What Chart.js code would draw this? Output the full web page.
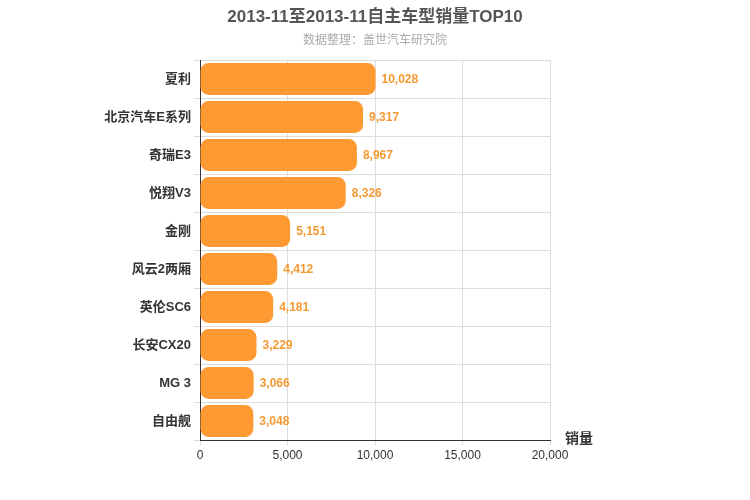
<!DOCTYPE html>
<html><head><meta charset="utf-8">
<script src="https://cdn.jsdelivr.net/npm/chart.js@4/dist/chart.umd.min.js"></script>
<style>body{margin:0;background:#fff}#w{width:750px;height:500px}</style>
</head><body><div id="w"><canvas id="c"></canvas></div>
<script>
const categories=["夏利","北京汽车E系列","奇瑞E3","悦翔V3","金刚","风云2两厢","英伦SC6","长安CX20","MG 3","自由舰"];
const sales=[10028,9317,8967,8326,5151,4412,4181,3229,3066,3048];
const xTicks=[0,5000,10000,15000,20000];
const F='"Helvetica Neue",Arial,"Noto Sans CJK SC",sans-serif';
const labels={id:'labels',afterDatasetsDraw(ch){const c=ch.ctx;const m=ch.getDatasetMeta(0);c.save();c.font='bold 12px '+F;c.fillStyle='#f59a33';c.textBaseline='middle';m.data.forEach((b,i)=>{c.fillText(sales[i].toLocaleString('en-US'),b.x+6,b.y+1);});
c.font='bold 14px '+F;c.fillStyle='#333';c.textAlign='left';c.fillText('销量',565,439);
c.textAlign='center';c.font='bold 17px '+F;c.fillStyle='#555';c.fillText('2013-11至2013-11自主车型销量TOP10',375,17);
c.font='12px '+F;c.fillStyle='#aaa';c.fillText('数据整理：盖世汽车研究院',375,41);
c.restore();}};
new Chart(document.getElementById('c'),{type:'bar',data:{labels:categories,datasets:[{data:sales,backgroundColor:'#ff9a33',borderRadius:8,borderSkipped:false,barPercentage:0.84,categoryPercentage:1}]},
options:{indexAxis:'y',responsive:true,maintainAspectRatio:false,animation:false,
layout:{padding:{left:0,right:200,top:60,bottom:36}},
plugins:{legend:{display:false},tooltip:{enabled:false}},
scales:{x:{min:0,max:20000,afterFit(a){a.height=24;},afterBuildTicks(a){a.ticks=xTicks.map(v=>({value:v}));},ticks:{color:'#333',font:{size:12,family:F},callback:v=>v.toLocaleString('en-US')},grid:{color:'#ddd',drawTicks:true,tickLength:5},border:{color:'#333'}},
y:{afterFit(a){a.width=200;},ticks:{color:'#333',font:{size:13,weight:'bold',family:F}},grid:{color:'#ddd',offset:true,tickLength:6},border:{color:'#333'}}}},
plugins:[labels]});
</script></body></html>
